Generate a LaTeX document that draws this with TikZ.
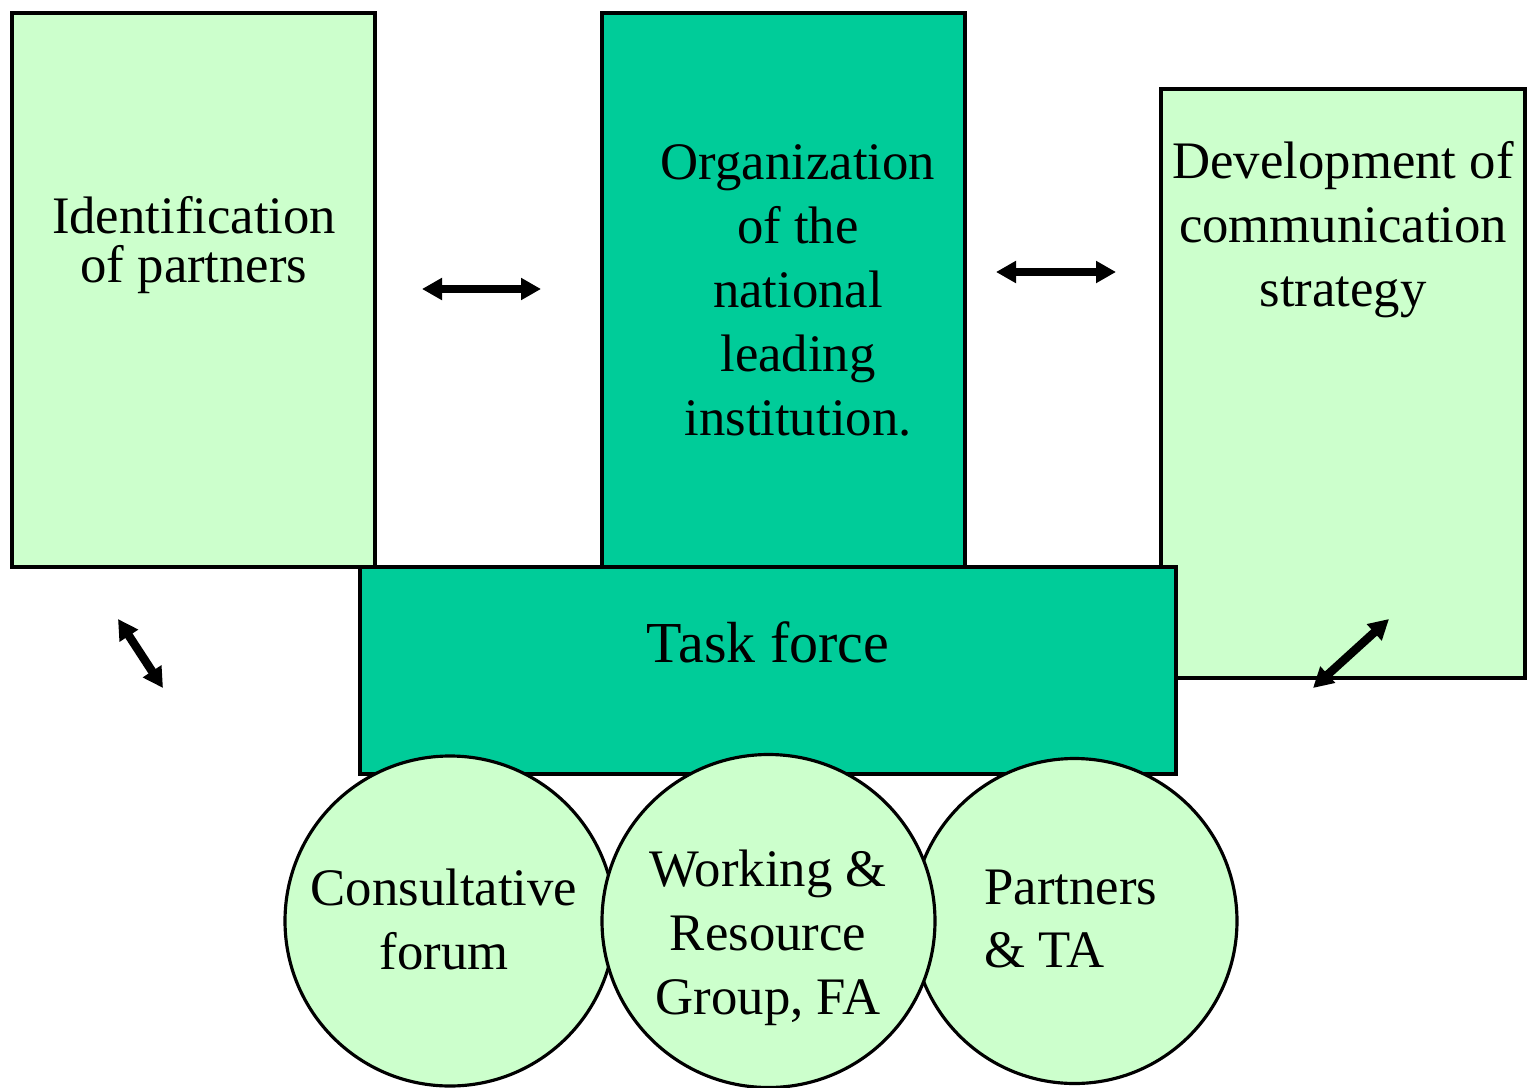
\documentclass[tikz,border=0pt]{standalone}
\usepackage{fontspec}
\setmainfont{Liberation Serif}
\usepackage{tikz}
\usetikzlibrary{arrows.meta}
\definecolor{palegreen}{HTML}{CCFFCC}
\definecolor{teal}{HTML}{00CC99}
\newcommand{\txtsize}{\fontsize{15}{18.2}\selectfont}
\tikzset{
  box/.style={draw, line width=0.9pt, inner sep=0pt},
  lightbox/.style={box, fill=palegreen},
  darkbox/.style={box, fill=teal},
  group/.style={box, circle, fill=palegreen, minimum size=3.3cm},
  txt/.style={align=center, font=\txtsize, inner sep=0pt},
  both/.style={{Triangle[length=0.2cm,width=0.21cm]}-{Triangle[length=0.2cm,width=0.21cm]},
    line width=0.085cm}
}

\begin{document}
\begin{tikzpicture}
  \useasboundingbox (0,0) rectangle (15.29,-10.88);
  % the three top blocks
  \node [lightbox, minimum width=3.63cm, minimum height=5.54cm] (ident) at (1.935,-2.90) {};
  \node [darkbox, minimum width=3.63cm, minimum height=5.54cm] (org) at (7.835,-2.90) {};
  \node [lightbox, minimum width=3.64cm, minimum height=5.89cm] (devel) at (13.43,-3.835) {};
  \node [darkbox, minimum width=8.16cm, minimum height=2.07cm] (task) at (7.68,-6.705) {};
  \node [txt, font=\fontsize{15}{14}\selectfont] (identtxt) at (1.94,-2.45)
    {Identification\\of partners};
  \node [txt] (orgtxt) at (7.98,-2.90)
    {Organization\\of the\\national\\leading\\institution.};
  \node [txt] (develtxt) at (13.43,-2.30)
    {Development of\\communication\\strategy};
  \node [txt, font=\fontsize{16.5}{19}\selectfont] (tasktxt) at (7.68,-6.42) {Task force};
  % arrows between blocks
  \coordinate (l1) at (4.22,-2.89);
  \coordinate (r1) at (5.41,-2.89);
  \coordinate (l2) at (9.96,-2.72);
  \coordinate (r2) at (11.16,-2.72);
  \coordinate (t3) at (1.18,-6.19);
  \coordinate (b3) at (1.63,-6.88);
  \coordinate (t4) at (13.89,-6.19);
  \coordinate (b4) at (13.13,-6.88);
  \draw [ both ] (l1) to (r1);
  \draw [ both ] (l2) to (r2);
  \draw [ both ] (t3) to (b3);
  \draw [ both ] (t4) to (b4);
  % groups under the task force
  \node [group] (forum) at (4.50,-9.21) {};
  \node [group, minimum size=3.25cm] (partners) at (10.745,-9.21) {};
  \node [group, minimum size=3.33cm] (working) at (7.685,-9.21) {};
  \node [txt] (forumtxt) at (4.44,-9.19) {Consultative\\forum};
  \node [txt] (workingtxt) at (7.68,-9.38) {Working \&\\Resource\\Group, FA};
  \node [txt, align=left] (partnerstxt) at (10.71,-9.19) {Partners\\\& TA};
\end{tikzpicture}
\end{document}
